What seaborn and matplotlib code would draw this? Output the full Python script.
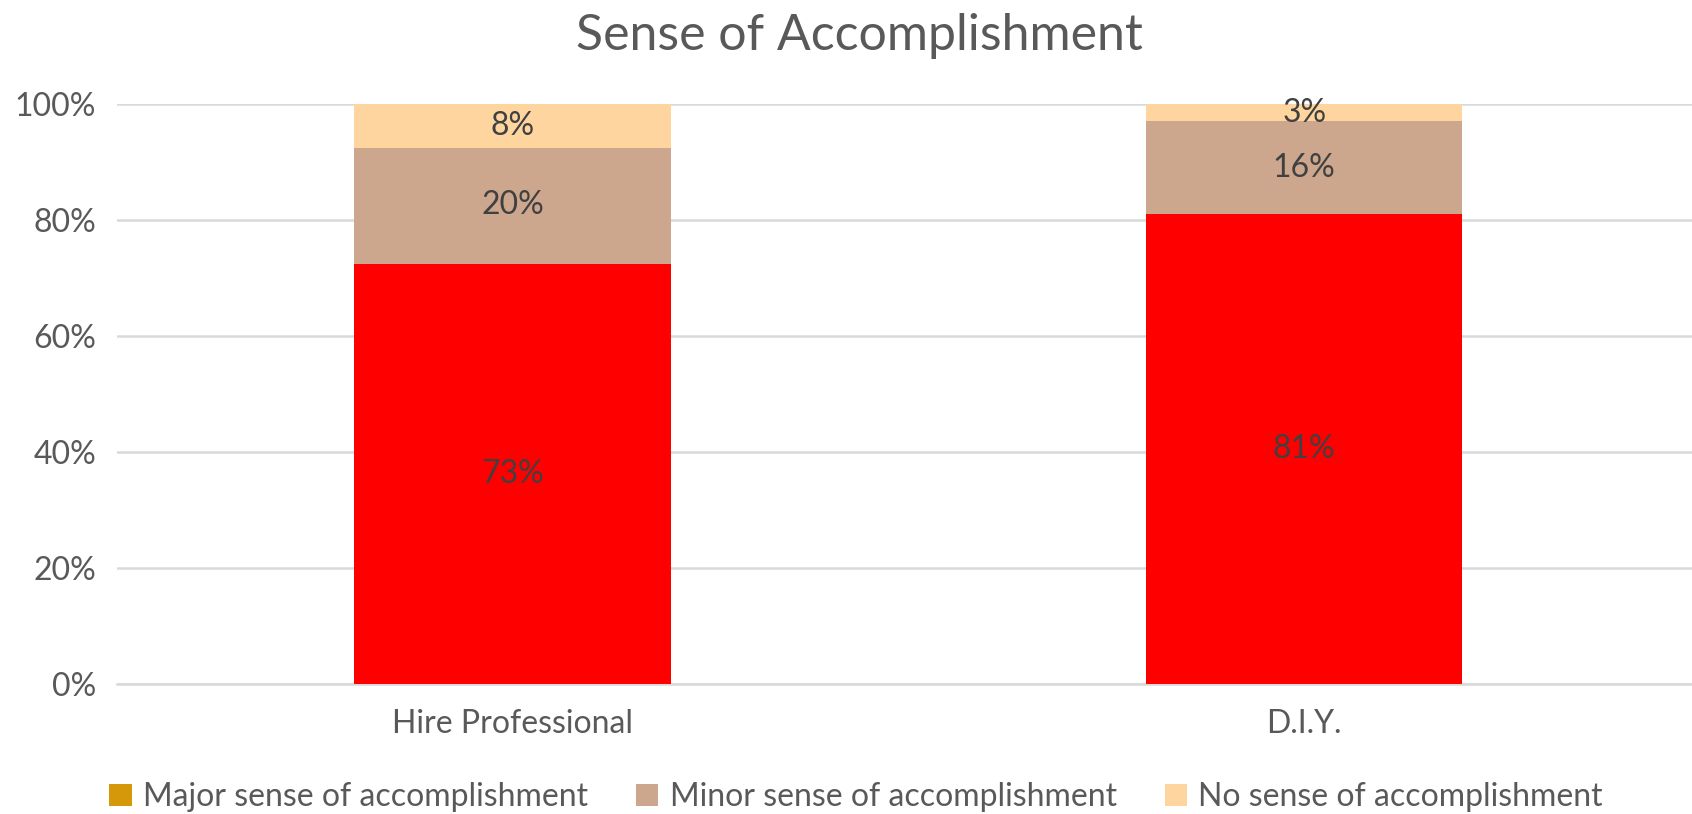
import matplotlib
matplotlib.use("Agg")
import matplotlib.pyplot as plt
from matplotlib.patches import Patch
from matplotlib.ticker import PercentFormatter
import seaborn as sns
import pandas as pd
import numpy as np
import math

categories = ["Hire Professional", "D.I.Y."]
major = [0.725, 0.81]
minor = [0.20, 0.16]
none_ = [0.075, 0.03]
series_names = ["Major sense of accomplishment", "Minor sense of accomplishment", "No sense of accomplishment"]
bar_colors = ["#FF0000", "#CDA78D", "#FED59F"]
legend_colors = ["#D4980A", "#CDA78D", "#FED59F"]

sns.set_theme(style="white")
plt.rcParams['font.family'] = ['Lato', 'DejaVu Sans']

df = pd.DataFrame({"cat": categories, "major": major, "minor": minor, "none": none_})
df["c1"] = df["major"]
df["c2"] = df["major"] + df["minor"]
df["c3"] = df["c2"] + df["none"]

fig = plt.figure(figsize=(16.92, 8.14), dpi=100)
ax = fig.add_axes([117/1692, 1 - 684/814, (1692-117)/1692, (684-104)/814])

w = 0.40
kw = dict(width=w, saturation=1, ax=ax, linewidth=0)
sns.barplot(data=df, x="cat", y="c3", color=bar_colors[2], zorder=2, **kw)
sns.barplot(data=df, x="cat", y="c2", color=bar_colors[1], zorder=3, **kw)
sns.barplot(data=df, x="cat", y="c1", color=bar_colors[0], zorder=4, **kw)

ax.set_ylim(0, 1.0)
ax.set_xlim(-0.5, 1.49)
ax.yaxis.set_major_formatter(PercentFormatter(1.0, decimals=0))
ax.set_yticks(np.arange(0, 1.01, 0.2))
ax.grid(axis="y", color="#D9D9D9", linewidth=1.8, zorder=0)
ax.set_axisbelow(True)
for s in ["top", "right", "left"]:
    ax.spines[s].set_visible(False)
ax.spines["bottom"].set_color("#D9D9D9")
ax.spines["bottom"].set_linewidth(1.8)
ax.set_xlabel("")
ax.set_ylabel("")
ax.tick_params(axis="both", labelsize=23, colors="#595959", length=0)
ax.tick_params(axis="y", pad=15)
ax.tick_params(axis="x", pad=18)

for i in range(len(categories)):
    segs = [(0, major[i]), (major[i], major[i] + minor[i]), (major[i] + minor[i], major[i] + minor[i] + none_[i])]
    for (b, t) in segs:
        pct = math.floor((t - b) * 100 + 0.5 + 1e-9)
        ax.text(i, (b + t) / 2, f"{pct}%", ha="center", va="center",
                fontsize=23, color="#404040", zorder=6)

fig.text(0.508, 1 - 36/814, "Sense of Accomplishment", ha="center", va="center", fontsize=36, color="#595959")

handles = [Patch(facecolor=c, edgecolor="none") for c in legend_colors]
fig.legend(handles, series_names, loc="center", bbox_to_anchor=(0.506, 1 - 797/814), ncol=3,
           frameon=False, fontsize=23, labelcolor="#595959", handlelength=0.7, handleheight=0.7,
           handletextpad=0.35, columnspacing=1.5)

fig.savefig("out.png", dpi=100)
